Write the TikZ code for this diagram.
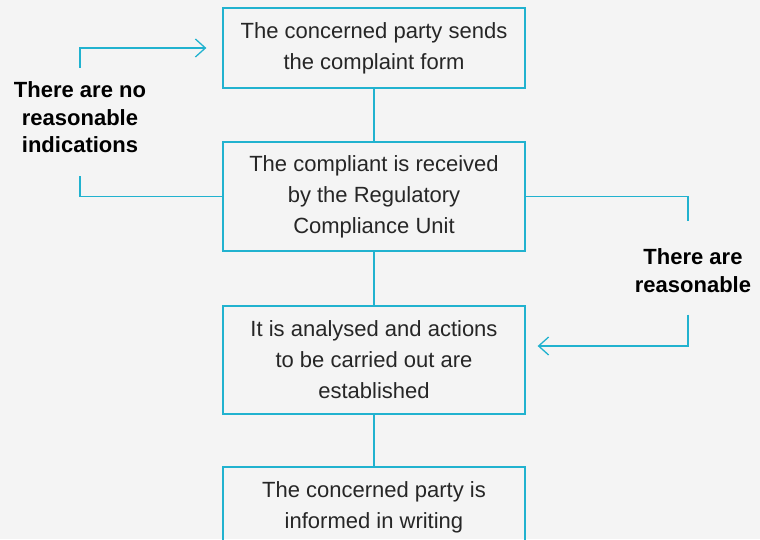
\documentclass[tikz,border=0pt]{standalone}
\usepackage{fontspec}
\setmainfont{Liberation Sans}
\usetikzlibrary{arrows.meta}

\definecolor{flowteal}{RGB}{33,178,207}
\definecolor{paper}{RGB}{244,244,244}
\definecolor{ink}{RGB}{38,38,38}

\begin{document}
\begin{tikzpicture}[x=1pt,y=-1pt,
    stage/.style={draw=flowteal,line width=1.3pt,minimum width=302pt,inner sep=0pt,
        text=ink,align=center,font=\fontsize{22}{31}\selectfont},
    verdict/.style={inner sep=0pt,text=black,align=center,
        font=\fontsize{22}{27.5}\selectfont\bfseries},
    link/.style={draw=flowteal,line width=1.3pt},
    back/.style={link,-{Straight Barb[length=10pt,width=18pt]}}]
    \def\midx{374}

    % page
    \useasboundingbox (0,0) rectangle (760,539);
    \fill[paper] (0,0) rectangle (760,539);
    \clip (0,0) rectangle (760,539);

    % steps
    \node[stage,minimum height=80pt] (sends) at (\midx,48)
        {The concerned party sends\\the complaint form};
    \node[stage,minimum height=109pt] (recv) at (\midx,196.5)
        {The compliant is received\\by the Regulatory\\Compliance Unit};
    \node[stage,minimum height=108pt] (analyse) at (\midx,360)
        {It is analysed and actions\\to be carried out are\\established};
    \node[stage,minimum height=80pt] (inform) at (\midx,507)
        {The concerned party is\\informed in writing};

    % outcomes
    \node[verdict] (noind) at (80,117.5) {There are no\\reasonable\\indications};
    \node[verdict] (yesind) at (693,270.5) {There are\\reasonable};

    % main line
    \draw[link] (sends) -- (recv);
    \draw[link] (recv) -- (analyse);
    \draw[link] (analyse) -- (inform);

    % no indications: back to the start
    \draw[link] (recv.west) -| ([yshift=-23pt]noind.south);
    \draw[back,shorten >=16pt] ([yshift=14pt]noind.north) |- (sends.west);

    % indications: on to the analysis
    \draw[link] (recv.east) -| ([xshift=-5pt,yshift=27pt]yesind.north);
    \draw[back,shorten >=12pt] ([xshift=-5pt,yshift=-22pt]yesind.south)
        |- ([yshift=14pt]analyse.east);
\end{tikzpicture}
\end{document}
